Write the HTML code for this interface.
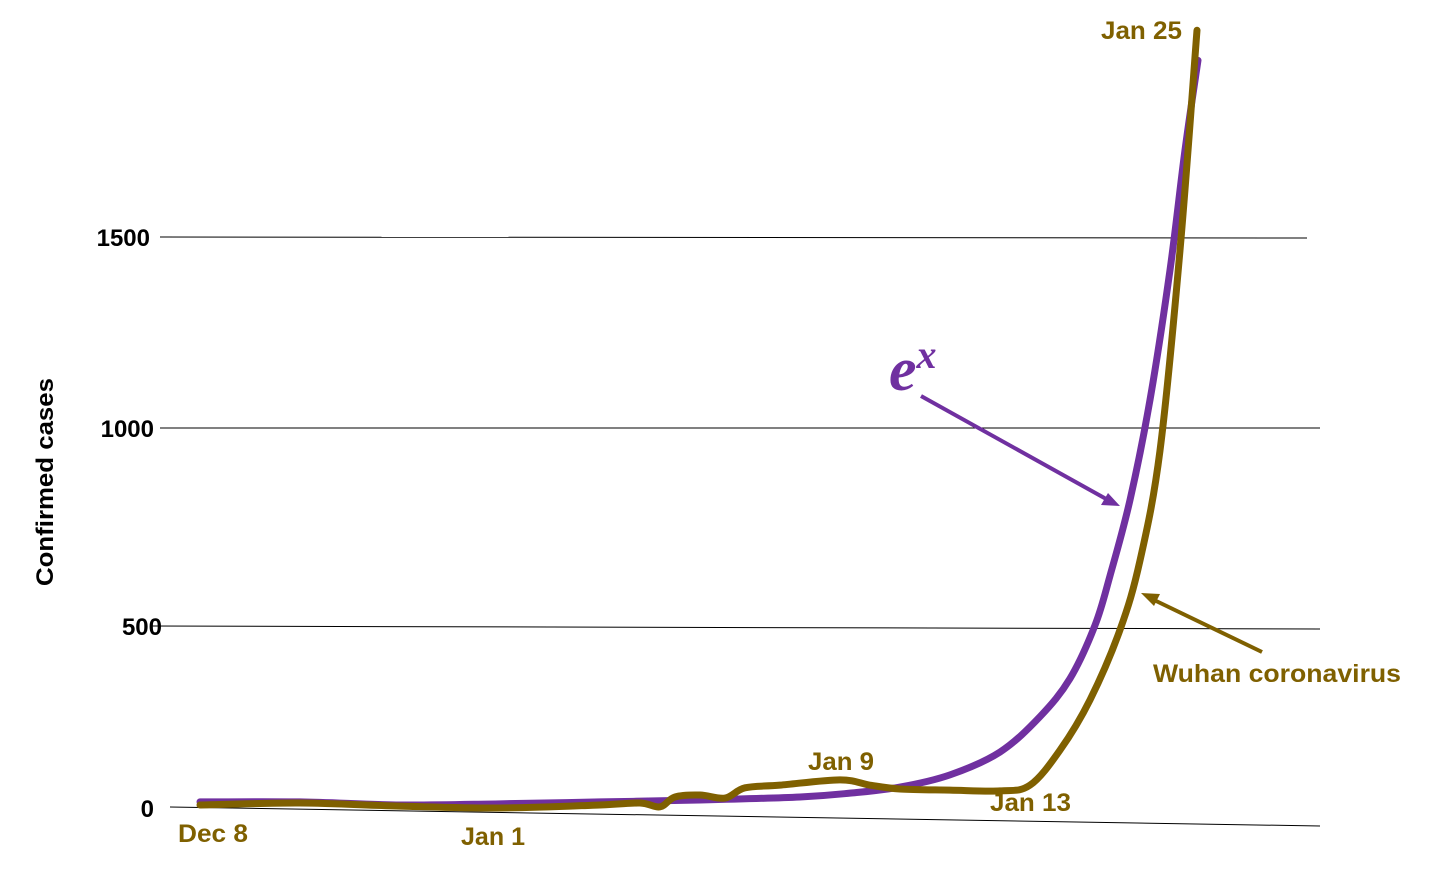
<!DOCTYPE html>
<html><head><meta charset="utf-8"><style>
html,body{margin:0;padding:0;background:#fff;}
svg{display:block;font-family:"Liberation Sans",sans-serif;}
</style></head><body>
<svg id="chart" width="1439" height="880" viewBox="0 0 1439 880">
<g stroke="#000" stroke-width="1">
<line x1="160" y1="237" x2="1307" y2="238"/>
<line x1="160" y1="428" x2="1320" y2="428"/>
<line x1="150" y1="626" x2="1320" y2="629"/>
<line x1="170" y1="807" x2="1320" y2="826"/>
</g>
<g font-weight="bold" font-size="24" fill="#000" text-anchor="end">
<text x="150" y="246">1500</text>
<text x="154" y="437">1000</text>
<text x="162" y="635">500</text>
<text x="154" y="817">0</text>
</g>
<text transform="translate(53,482) rotate(-90)" text-anchor="middle" font-weight="bold" font-size="24" fill="#000" textLength="208" lengthAdjust="spacingAndGlyphs">Confirmed cases</text>
<g id="series"></g>
<g font-weight="bold" font-size="25" fill="#7f6000">
<text x="178" y="842" textLength="70" lengthAdjust="spacingAndGlyphs">Dec 8</text>
<text x="461" y="845" textLength="64" lengthAdjust="spacingAndGlyphs">Jan 1</text>
<text x="808" y="770" textLength="66" lengthAdjust="spacingAndGlyphs">Jan 9</text>
<text x="990" y="811" textLength="81" lengthAdjust="spacingAndGlyphs">Jan 13</text>
<text x="1101" y="39" textLength="81" lengthAdjust="spacingAndGlyphs">Jan 25</text>
<text x="1153" y="682" textLength="248" lengthAdjust="spacingAndGlyphs">Wuhan coronavirus</text>
</g>
<text x="889" y="390" font-family="'Liberation Serif',serif" font-style="italic" font-weight="bold" font-size="62" fill="#7030a0">e<tspan font-size="40" dy="-22">x</tspan></text>
<g>
<line x1="921" y1="396" x2="1108" y2="500" stroke="#7030a0" stroke-width="4"/>
<polygon points="1120,506 1101,505 1108,493" fill="#7030a0"/>
</g>
<g>
<line x1="1262" y1="652" x2="1152" y2="599" stroke="#7f6000" stroke-width="4"/>
<polygon points="1141,593 1160,594 1154,606" fill="#7f6000"/>
</g>
</svg>
<script>
const wuhanX = [0,10,20,30,40,44,46,47.5,50,52.5,54.5,58,64,67,70,75,80,83,86,89,92,94,96,98,99.7];
const wuhanCases = [8,13,5,0,8,13,3,29,34,26,53,60,74,60,50,47,45,60,152,284,468,650,939,1465,2043];
const expX = [0,10,20,30,40,50,60,65,70,75,80,84,87,89.5,91,93,95,97,98.5,99.8];
const expCases = [16,16,8,11,16,21,29,39,55,87,147,240,340,480,610,809,1072,1413,1728,1964];

function xScale(v){return 200 + v*10;}
function yScale(v){return 808 - v*0.3807;}
function smoothPath(xs,ys){
  const p = xs.map((x,i)=>[xScale(x),yScale(ys[i])]);
  let d = 'M'+p[0][0]+','+p[0][1];
  for(let i=0;i<p.length-1;i++){
    const p0=p[Math.max(i-1,0)],p1=p[i],p2=p[i+1],p3=p[Math.min(i+2,p.length-1)];
    const c1=[p1[0]+(p2[0]-p0[0])/6,p1[1]+(p2[1]-p0[1])/6];
    const c2=[p2[0]-(p3[0]-p1[0])/6,p2[1]-(p3[1]-p1[1])/6];
    d+=' C'+c1[0]+','+c1[1]+' '+c2[0]+','+c2[1]+' '+p2[0]+','+p2[1];
  }
  return d;
}
const g = document.getElementById('series');
const ns = 'http://www.w3.org/2000/svg';
const e = document.createElementNS(ns,'path');


e.setAttribute('d', smoothPath(expX,expCases));
e.setAttribute('fill','none');e.setAttribute('stroke','#7030a0');e.setAttribute('stroke-width','7');e.setAttribute('stroke-linecap','round');
g.appendChild(e);
const w = document.createElementNS(ns,'path');


w.setAttribute('d', smoothPath(wuhanX,wuhanCases));
w.setAttribute('fill','none');w.setAttribute('stroke','#7f6000');w.setAttribute('stroke-width','7');w.setAttribute('stroke-linecap','round');
g.appendChild(w);
</script>
</body></html>
